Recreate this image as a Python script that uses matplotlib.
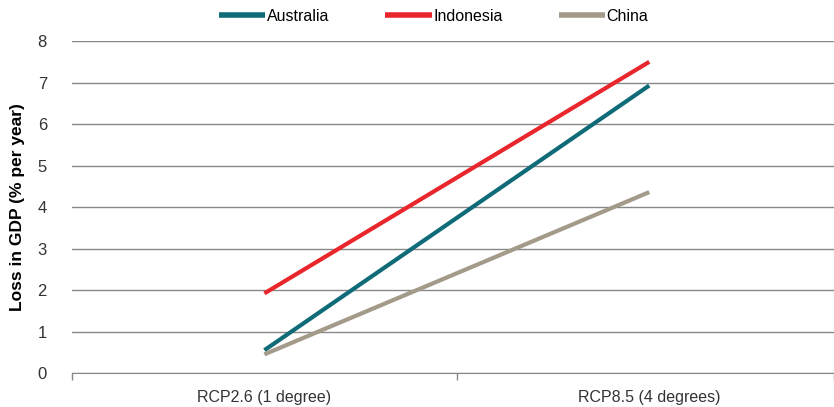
import matplotlib
matplotlib.use("Agg")
import matplotlib.pyplot as plt

scenarios = ["RCP2.6 (1 degree)", "RCP8.5 (4 degrees)"]
australia = [0.55, 6.93]
indonesia = [1.92, 7.50]
china = [0.45, 4.36]

plt.rcParams['font.family'] = ['Liberation Sans', 'DejaVu Sans']

fig = plt.figure(figsize=(8.34, 4.07), dpi=100)
ax = fig.add_axes([0.0863, 0.0835, 0.9137, 0.8155])

xs = range(len(scenarios))
ax.plot(xs, australia, color='#0f6b77', lw=3, label='Australia', solid_capstyle='butt')
ax.plot(xs, indonesia, color='#e8262b', lw=3, label='Indonesia', solid_capstyle='butt')
ax.plot(xs, china, color='#a39a8a', lw=3, label='China', solid_capstyle='butt')

ax.set_xlim(-0.5, 1.48)
ax.set_ylim(0, 8)
ax.set_yticks(range(0, 9))
ax.set_xticks(list(xs))
ax.set_xticklabels(scenarios)
ax.set_xticks([-0.5, 0.5, 1.48], minor=True)
ax.tick_params(axis='x', which='major', length=0, pad=12, labelsize=11.5, colors='#333333')
ax.tick_params(axis='x', which='minor', length=5, color='#888888', width=1)
ax.tick_params(axis='y', length=0, pad=18, labelsize=12, colors='#333333')

ax.grid(axis='y', color='#888888', lw=1)
ax.set_axisbelow(True)
for s in ['top', 'right', 'left']:
    ax.spines[s].set_visible(False)
ax.spines['bottom'].set_color('#888888')

ax.set_ylabel("Loss in GDP (% per year)", fontsize=12.5, fontweight='bold', labelpad=9)

leg = fig.legend(loc='center', bbox_to_anchor=(0.52, 0.96), ncol=3, frameon=False,
                 fontsize=11.5, handlelength=2.9, handletextpad=0.1, columnspacing=3.5)
for h in leg.get_lines():
    h.set_linewidth(4)

fig.savefig("out.png", dpi=100)
